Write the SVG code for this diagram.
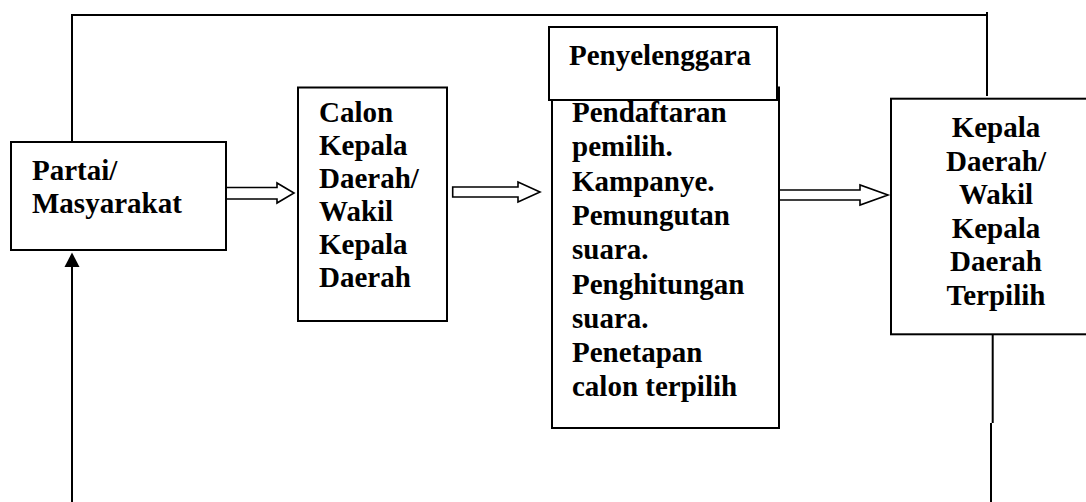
<svg xmlns="http://www.w3.org/2000/svg" width="1086" height="502" viewBox="0 0 1086 502">
<style>
.box{fill:#fff;stroke:#000;stroke-width:2}
.t{font-family:"Liberation Serif","Times New Roman",serif;font-weight:bold;font-size:29px;fill:#000}
.c{text-anchor:middle}
.ln{fill:none;stroke:#000;stroke-width:2}
.ha{fill:#fff;stroke:#000;stroke-width:1.6;stroke-linejoin:miter}
</style>
<defs>
<marker id="ah" markerWidth="16" markerHeight="16" refX="8" refY="1" orient="auto-start-reverse" markerUnits="userSpaceOnUse" viewBox="0 0 16 16">
<path d="M8,1 L15.5,15 L0.5,15 Z" fill="#000"/>
</marker>
</defs>
<rect width="1086" height="502" fill="#fff"/>
<g id="connectors">
<path class="ln" d="M72,142 V15 H987"/>
<line class="ln" x1="987" y1="12" x2="987" y2="96"/>
<path class="ln" d="M992.7,335 V423 M991,423 V502"/>
<line class="ln" x1="72" y1="502" x2="72" y2="267"/>
<path d="M72,252.5 L79.5,267 L64.5,267 Z" fill="#000"/>
<polygon class="ha" points="226,187.5 277,187.5 277,183 294,193 277,203 277,199 226,199"/>
<polygon class="ha" points="452.7,187 518,187 518,182 540,192 518,202 518,197 452.7,197"/>
<polygon class="ha" points="779,190 860,190 860,185 888,195 860,205 860,200 779,200"/>
</g>
<g id="partai">
<rect class="box" x="11" y="142" width="215" height="108"/>
<text class="t" x="32" y="180">Partai/</text>
<text class="t" x="32" y="213">Masyarakat</text>
</g>
<g id="calon">
<rect class="box" x="298" y="87.5" width="149" height="233.5"/>
<text class="t" x="319" y="122">Calon</text>
<text class="t" x="319" y="155">Kepala</text>
<text class="t" x="319" y="188">Daerah/</text>
<text class="t" x="319" y="221">Wakil</text>
<text class="t" x="319" y="254">Kepala</text>
<text class="t" x="319" y="287">Daerah</text>
</g>
<g id="penyelenggara">
<rect class="box" x="552" y="87.5" width="227" height="340.5"/>
<rect class="box" x="549" y="27" width="228" height="73"/>
<text class="t" x="569" y="65">Penyelenggara</text>
<text class="t" x="572" y="122">Pendaftaran</text>
<text class="t" x="572" y="156.3">pemilih.</text>
<text class="t" x="572" y="190.6">Kampanye.</text>
<text class="t" x="572" y="224.9">Pemungutan</text>
<text class="t" x="572" y="259.2">suara.</text>
<text class="t" x="572" y="293.5">Penghitungan</text>
<text class="t" x="572" y="327.8">suara.</text>
<text class="t" x="572" y="362.1">Penetapan</text>
<text class="t" x="572" y="396.4">calon terpilih</text>
</g>
<g id="kepala">
<rect class="box" x="891" y="98.7" width="200" height="235.6"/>
<text class="t c" x="996" y="137">Kepala</text>
<text class="t c" x="996" y="170.6">Daerah/</text>
<text class="t c" x="996" y="204.2">Wakil</text>
<text class="t c" x="996" y="237.8">Kepala</text>
<text class="t c" x="996" y="271.4">Daerah</text>
<text class="t c" x="996" y="305">Terpilih</text>
</g>
</svg>
